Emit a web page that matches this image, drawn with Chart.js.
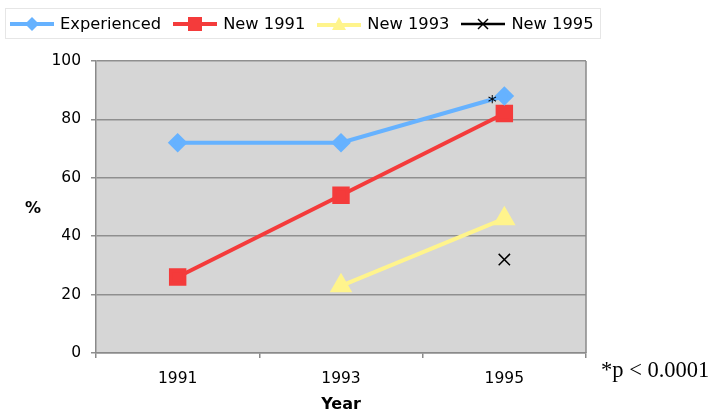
<!DOCTYPE html>
<html><head><meta charset="utf-8">
<script src="https://cdn.jsdelivr.net/npm/chart.js@4/dist/chart.umd.min.js"></script>
<style>
html,body{margin:0;padding:0;background:#fff;}
#wrap{position:relative;width:717px;height:409px;overflow:hidden;}
#legend{position:absolute;left:5px;top:8px;width:596px;height:31px;border:1px solid #e6e6e6;display:flex;align-items:center;font-family:"DejaVu Sans",Verdana,sans-serif;font-size:16.3px;color:#000;box-sizing:border-box;padding-left:4px;white-space:nowrap;overflow:hidden;}
#legend .it{display:flex;align-items:center;margin-right:12px;flex-shrink:0;white-space:nowrap;}
#legend svg{margin-right:6px;flex-shrink:0;}
#pnote{position:absolute;left:601px;top:357px;font-family:"Liberation Serif","Times New Roman",serif;font-size:22.5px;color:#000;white-space:nowrap;}
</style></head>
<body><div id="wrap">
<canvas id="c" width="717" height="409"></canvas>
<div id="legend"></div>
<div id="pnote">*p &lt; 0.0001</div>
</div>
<script>
const categories = ["1991","1993","1995"];
const experienced = [72, 72, 88];
const new1991 = [26, 54, 82];
const new1993 = [null, 23, 46];
const new1995 = [null, null, 32];
const seriesNames = ["Experienced","New 1991","New 1993","New 1995"];
const yTicks = [0,20,40,60,80,100];

const colors = ["#66b2ff","#f43b3b","#fff48c","#000000"];

// HTML legend
const sym = [
 '<svg width="44" height="14"><line x1="0" y1="7" x2="44" y2="7" stroke="#66b2ff" stroke-width="4"/><polygon points="22,0 29,7 22,14 15,7" fill="#66b2ff"/></svg>',
 '<svg width="44" height="16"><line x1="0" y1="8" x2="44" y2="8" stroke="#f43b3b" stroke-width="4"/><rect x="15" y="1" width="14" height="14" fill="#f43b3b"/></svg>',
 '<svg width="44" height="16"><line x1="0" y1="9" x2="44" y2="9" stroke="#fff48c" stroke-width="4"/><polygon points="22,1 29,14 15,14" fill="#fff48c"/></svg>',
 '<svg width="44" height="14"><line x1="0" y1="7" x2="44" y2="7" stroke="#000" stroke-width="2.5"/><line x1="17" y1="2" x2="27" y2="12" stroke="#000" stroke-width="1.5"/><line x1="27" y1="2" x2="17" y2="12" stroke="#000" stroke-width="1.5"/></svg>'
];
document.getElementById('legend').innerHTML = seriesNames.map((n,i)=>'<div class="it">'+sym[i]+'<span>'+n+'</span></div>').join('');

const AREA = {left:96, right:586, top:61, bottom:353};

const plotBg = {
  id:'plotBg',
  beforeDraw(chart){
    const {ctx, chartArea:a} = chart;
    ctx.save();
    ctx.fillStyle = '#d6d6d6';
    ctx.fillRect(a.left, a.top, a.right-a.left, a.bottom-a.top);
    ctx.restore();
  },
  afterDatasetsDraw(chart){
    const {ctx, chartArea:a, scales} = chart;
    ctx.save();
    ctx.strokeStyle = '#8a8a8a';
    ctx.lineWidth = 1.5;
    ctx.beginPath();
    ctx.moveTo(a.right, a.top); ctx.lineTo(a.right, a.bottom);
    ctx.stroke();
    // significance asterisk next to Experienced 1995
    const x = scales.x.getPixelForValue(2);
    const y = scales.y.getPixelForValue(experienced[2]);
    ctx.fillStyle = '#000';
    ctx.font = '18px "DejaVu Sans", sans-serif';
    ctx.textAlign = 'center';
    ctx.textBaseline = 'middle';
    ctx.fillText('*', x-12, y+7);
    // axis titles
    ctx.font = 'bold 16px "DejaVu Sans", Verdana, sans-serif';
    ctx.fillText('%', 33, 209);
    ctx.fillText('Year', (a.left+a.right)/2, 405);
    ctx.restore();
  }
};

new Chart(document.getElementById('c'), {
  type:'line',
  data:{
    labels:categories,
    datasets:[
      {label:seriesNames[0], data:experienced, borderColor:colors[0], backgroundColor:colors[0], borderWidth:4, pointStyle:'rectRot', pointRadius:7, pointHoverRadius:7},
      {label:seriesNames[1], data:new1991, borderColor:colors[1], backgroundColor:colors[1], borderWidth:4, pointStyle:'rect', pointRadius:9.5, pointHoverRadius:9.5},
      {label:seriesNames[2], data:new1993, borderColor:colors[2], backgroundColor:colors[2], borderWidth:4, pointStyle:'triangle', pointRadius:9, pointHoverRadius:9},
      {label:seriesNames[3], data:new1995, borderColor:colors[3], backgroundColor:colors[3], borderWidth:1.5, pointStyle:'cross', pointRotation:45, pointRadius:8, pointHoverRadius:8, showLine:false}
    ]
  },
  options:{
    responsive:false,
    animation:false,
    events:[],
    layout:{padding:{left:0, right:717-AREA.right, top:AREA.top, bottom:0}},
    plugins:{legend:{display:false}, tooltip:{enabled:false}},
    scales:{
      x:{
        offset:true,
        grid:{offset:true, drawOnChartArea:false, drawTicks:true, tickLength:5, color:'#8a8a8a', lineWidth:1.5},
        border:{color:'#8a8a8a', width:1.5},
        ticks:{color:'#000', font:{family:'"DejaVu Sans", Verdana, sans-serif', size:15.5}, padding:12, maxRotation:0},
        afterFit(s){ s.height = 409-AREA.bottom; }
      },
      y:{
        min:0, max:100,
        afterBuildTicks(s){ s.ticks = yTicks.map(v=>({value:v})); },
        grid:{color:'#8f8f8f', lineWidth:1.5, tickLength:5, drawTicks:true},
        border:{color:'#8a8a8a', width:1.5},
        ticks:{color:'#000', font:{family:'"DejaVu Sans", Verdana, sans-serif', size:15.5}, padding:10},
        afterFit(s){ s.width = AREA.left; }
      }
    }
  },
  plugins:[plotBg]
});
</script>
</body></html>
